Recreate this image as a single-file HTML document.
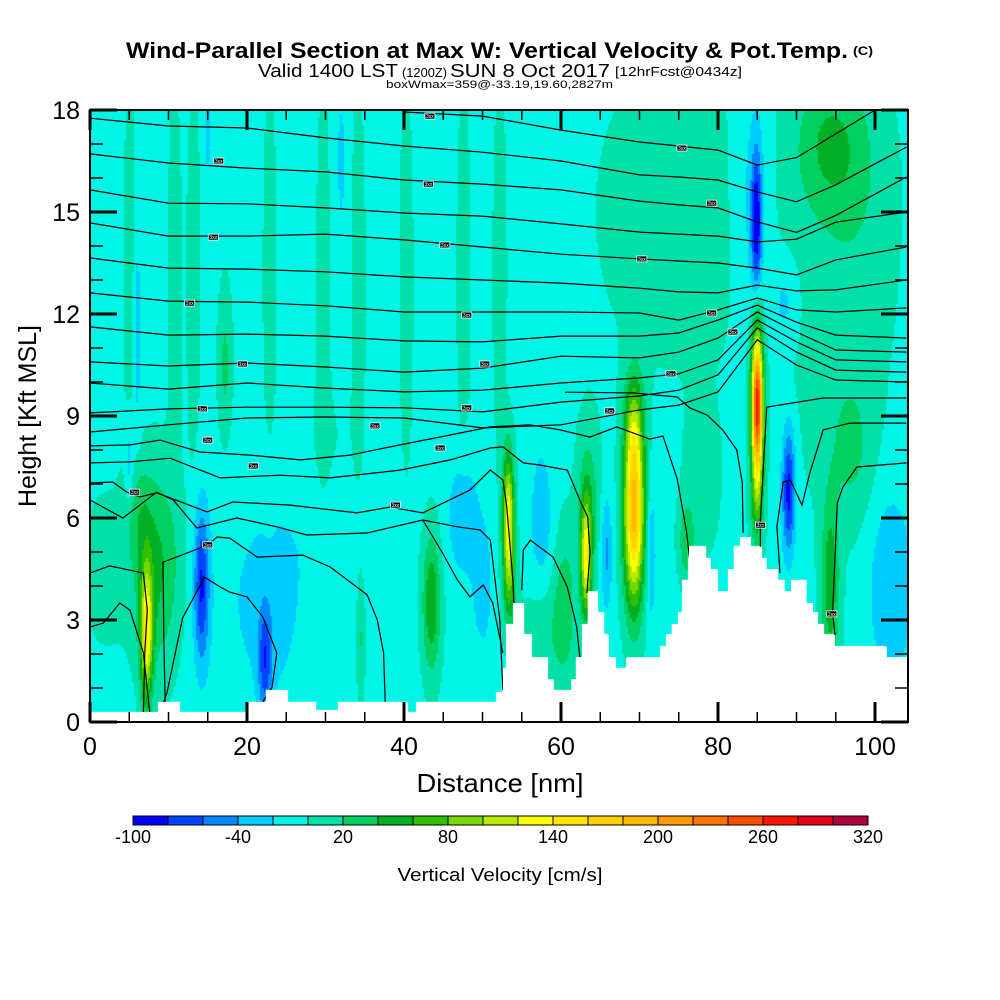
<!DOCTYPE html>
<html><head><meta charset="utf-8">
<style>
html,body{margin:0;padding:0;background:#fff;}
#wrap{position:relative;width:1000px;height:1000px;overflow:hidden;font-family:"Liberation Sans",sans-serif;}
#field{position:absolute;left:90px;top:110px;}
#ov{position:absolute;left:0;top:0;}
</style></head>
<body>
<div id="wrap">
<canvas id="field" width="818" height="612"></canvas>
<svg id="ov" width="1000" height="1000" xmlns="http://www.w3.org/2000/svg">
 <g id="contours"></g>
 <g id="clabels"></g>
 <path id="terrain" fill="#fff" stroke="none"/>
 <rect x="90" y="110" width="818" height="612" fill="none" stroke="#000" stroke-width="2"/>
 <g id="ticks" stroke="#000"></g>
 <g id="ylabels" font-family="Liberation Sans, sans-serif" font-size="25" text-anchor="end"></g>
 <g id="xlabels" font-family="Liberation Sans, sans-serif" font-size="25" text-anchor="middle"></g>
 <text x="500" y="792" font-size="26" text-anchor="middle" textLength="167" lengthAdjust="spacingAndGlyphs" font-family="Liberation Sans, sans-serif">Distance [nm]</text>
 <text transform="translate(36,416) rotate(-90)" font-size="25" text-anchor="middle" textLength="182" lengthAdjust="spacingAndGlyphs" font-family="Liberation Sans, sans-serif">Height [Kft MSL]</text>
 <text x="126" y="58" font-size="22" font-weight="bold" textLength="722" lengthAdjust="spacingAndGlyphs" font-family="Liberation Sans, sans-serif">Wind-Parallel Section at Max W: Vertical Velocity &amp; Pot.Temp.</text>
 <text x="853" y="55" font-size="12" font-weight="bold" textLength="20" lengthAdjust="spacingAndGlyphs" font-family="Liberation Sans, sans-serif">(C)</text>
 <g font-family="Liberation Sans, sans-serif">
  <text x="258" y="77" font-size="18" textLength="140" lengthAdjust="spacingAndGlyphs">Valid 1400 LST</text>
  <text x="402" y="77" font-size="13" textLength="45" lengthAdjust="spacingAndGlyphs">(1200Z)</text>
  <text x="450" y="77" font-size="18" textLength="160" lengthAdjust="spacingAndGlyphs">SUN 8 Oct 2017</text>
  <text x="615" y="76" font-size="13" textLength="127" lengthAdjust="spacingAndGlyphs">[12hrFcst@0434z]</text>
 </g>
 <text x="386" y="88" font-size="11" textLength="227" lengthAdjust="spacingAndGlyphs" font-family="Liberation Sans, sans-serif">boxWmax=359@-33.19,19.60,2827m</text>
 <g id="cbar"></g>
 <g id="cbarlabels" font-family="Liberation Sans, sans-serif" font-size="18" text-anchor="middle"></g>
 <text x="500" y="881" font-size="18" text-anchor="middle" textLength="205" lengthAdjust="spacingAndGlyphs" font-family="Liberation Sans, sans-serif">Vertical Velocity [cm/s]</text>
</svg>
</div>
<script>
// ---------- data ----------
const levelMin = -100, levelStep = 20;
const levelColors = ["#0000FF","#0044FF","#0088FF","#00CCFF","#00F5E6","#00E0A8","#00D060","#00B024","#30C000","#78D800","#B8EA00","#FFFF00","#FFE600","#FFD000","#FFB800","#FF9C00","#FF7400","#FF4C00","#FF1400","#E00020","#B00040"];
const cbarTicks = [-100,-40,20,80,140,200,260,320];
const xTicks = [0,20,40,60,80,100];
const yTicks = [0,3,6,9,12,15,18];
const wBase = -5;
const blobX  = [7.2,8.5,6.0,53.3,53.5,63.2,63.5,69.3,69.3,85.0,85.0,43.5,76,94.3,97,60.5,94,98,14.2,22.3,25,89.0,84.9,84.5,88.5,102,57.5,65.8,71.5,47.5,50,5,6,15,32,75,95,29,34.5,2,58,78,5.1,10.8,13.2,22.9,29.7,34.2,40.3,47.6,52.2,17.2,30];
const blobZ  = [2.6,4.5,6.2,6.0,4.0,4.8,6.5,6.2,8.8,9.3,6.5,3.5,5.3,4.0,8,3.5,17,16,4.0,1.8,3.5,6.8,14.7,15.5,12.3,4.0,6,5.0,5.0,6.0,4,7.5,11.5,17.3,16.5,15,12,2.5,2.5,4.5,2.5,7,13,13,13,13,13,13,13,13,13,10.5,8];
const blobSX = [0.55,2.0,1.2,0.5,0.6,0.5,1.0,0.9,0.8,0.5,0.6,0.8,0.7,0.8,2,1,3,3,0.7,0.6,6,0.6,0.45,1.5,1.2,2.0,1.0,0.5,0.4,1.3,1,0.4,0.35,0.3,0.3,9,5,2.5,0.4,2,2,1.5,0.6,0.6,0.6,0.6,0.6,0.6,0.6,0.6,0.6,0.6,3];
const blobSZ = [1.4,2.0,1.0,1.3,1.0,1.2,1.5,1.9,1.0,1.5,1.0,1.4,0.8,1.8,1.5,1.5,1.5,2.5,1.6,1.1,2.5,1.3,1.4,2.5,0.9,2.0,1.5,1.2,1.5,1.2,1.5,1.0,2.2,0.8,1.2,4,4,2,1.3,1.5,1.2,1.5,4,4,4,4,4,4,4,4,4,1.5,1.5];
const blobAmp= [135,50,25,140,50,130,35,195,50,280,50,65,40,60,25,35,40,15,-75,-60,-25,-85,-85,-25,-25,-35,-30,-40,-35,-35,-25,-35,-30,-30,-30,10,12,18,30,15,20,15,15,15,15,15,15,15,15,15,15,30,8];
const terrX = [0,8.66,11.46,20,22.4,25.1,28.8,31.6,40.5,41.6,51.8,52.6,53.1,53.9,55.3,56.2,58.3,59.0,61.3,61.9,62.7,63.4,64.7,65.5,66.1,67.0,68.4,72.7,73.5,74.1,74.9,75.5,76.3,78.5,79.1,79.9,81.3,82.0,82.8,84.2,85.6,86.2,87.6,88.5,89.3,91.3,92.1,92.7,93.5,94.9,101.5,104.2];
const terrZ = [0.29,0.59,0.29,0.59,0.94,0.59,0.35,0.59,0.29,0.59,0.88,1.59,2.88,3.5,2.56,1.91,1.26,0.94,1.26,1.91,2.88,3.85,3.21,2.56,1.91,1.59,1.91,2.21,2.56,2.88,3.21,4.18,5.15,4.82,4.5,3.85,4.5,5.15,5.44,5.15,4.82,4.5,4.18,3.85,4.18,3.5,3.21,2.88,2.56,2.21,1.91];
const upperKnots = [0,10,20,30,40,50,60,70,75,80,85,90,95,104];
const upperLines = [
 [17.76,17.53,17.47,17.18,16.94,16.76,16.50,16.09,16.03,15.94,15.59,15.3,15.8,16.91],
 [16.71,16.44,16.29,16.18,15.94,15.82,15.65,15.32,15.21,15.12,14.71,14.4,14.9,16.03],
 [15.65,15.26,15.24,15.12,14.97,14.88,14.65,14.41,14.35,14.29,14.12,14.2,14.7,15.0],
 [14.68,14.29,14.29,14.35,14.18,13.97,13.76,13.62,13.56,13.5,13.35,13.15,13.59,13.97],
 [13.65,13.35,13.32,13.24,13.09,13.0,12.91,12.76,12.65,12.62,12.85,12.68,12.71,13.0],
 [12.62,12.38,12.35,12.24,12.06,12.06,12.06,12.03,11.82,12.12,12.47,12.12,12.06,12.18],
 [11.62,11.38,11.41,11.35,11.21,11.18,11.35,11.35,11.44,11.82,12.26,11.76,11.38,11.29],
 [10.59,10.47,10.56,10.44,10.29,10.41,10.76,10.71,10.88,11.29,12.06,11.47,10.94,10.88],
 [9.97,9.79,9.97,9.82,9.71,9.76,9.97,10.12,10.24,10.65,11.82,11.18,10.65,10.59],
 [9.09,9.21,9.26,9.26,9.24,9.12,9.41,9.59,9.76,10.21,11.59,10.88,10.35,10.29],
 [8.53,8.74,8.94,8.97,8.94,8.65,8.74,9.18,9.32,9.71,11.24,10.5,10.06,10.0]
];
const topLineX = [40,50,60,70,75,80,85,90,95,100];
const topLineZ = [17.94,17.82,17.41,17.06,16.94,16.82,16.38,16.6,17.3,18.0];
const lowerLinesX = [
 [0,5.1,8.9,14,20.4,26.8,33.1,39.5,45.9,51,56,59.9,63.7,67.1,71.3,73,74.8,76,76.4],
 [0,5.1,10.2,16.6,24.2,30.6,39.5,45.9,51,52.6,55.2,57.3,60.8,62.4,63.4,63.7,63.3],
 [0,2.9,4.7,6.4,8.5,14.9,18.2,25.5,34,38.2,42.4,48.4,51,52.6,53.1,53.9,54.1],
 [0,4.2,8.5,10.6,13.6,18.7,23.8,27.6,35.3,42.4,46.8,49.7,51,52.2,52.6],
 [55,55.2,56.1,59,60.8,62,62.4],
 [0,2.5,6.8,7.3,7,6.8],
 [9.6,9.4,9.3,12.7,15,16.2,17.8,21.3,27.1,30.6,35.3,36.6,37.4,37.6],
 [0,1.7,3.8,5.1,6.8,7.6],
 [8.9,9.8,11.8,14.6,16.6,17.8,20,22,23.8,23.2,22],
 [42.4,44.9,46.8,48.4,50.1,51.3,52.6],
 [60.5,69.2,74.8,76.4,78.6,80.6,82.4,83.1,83.2],
 [104,93.4,86.2,85.4,85.4],
 [104,96.8,93.4,91.7,90.7,89.2,88.3,87.5,87.9],
 [104,97.7,95.9,95.2,94.6,94.9]
];
const lowerLinesZ = [
 [8.12,8.15,8.29,7.94,7.85,7.71,7.85,8.15,8.44,8.68,8.74,8.59,8.38,8.68,8.32,8.41,7.15,5.59,4.76],
 [7.62,7.65,7.76,7.18,7.26,7.18,7.41,7.71,8.06,8.09,7.62,7.56,7.41,6.53,6.03,4.97,3.79],
 [7.03,7.06,6.76,6.62,6.74,6.18,6.47,6.38,6.15,6.32,6.15,6.82,7.41,7.12,6.32,4.09,2.91],
 [6.53,6.0,6.76,6.53,5.71,6.0,5.74,5.5,5.56,5.94,5.74,5.65,5.35,3.0,0.94],
 [3.88,5.06,5.35,4.85,3.97,2.79,1.91],
 [4.38,4.59,4.38,3.29,2.12,0.29],
 [0.29,2.5,4.7,5.0,5.21,5.44,5.41,4.85,4.91,4.56,3.74,3.0,2.03,0.56],
 [2.79,2.91,3.5,3.29,2.03,0.29],
 [0.29,0.85,3.06,4.26,3.97,3.82,3.68,3.09,2.03,1.03,0.59],
 [5.94,4.97,4.18,3.68,4.03,3.5,2.03],
 [9.7,9.68,9.56,9.24,9.03,8.59,8.0,7.03,5.56],
 [9.53,9.53,9.26,5.94,5.15],
 [8.79,8.79,8.59,7.32,6.38,7.12,7.06,5.74,4.38],
 [7.62,7.5,6.91,6.44,3.21,2.56]
];
const labelX = [43.3,16.4,15.7,12.7,19.4,14.3,15.0,20.8,5.7,15.0,38.9,36.3,43.1,45.2,48.0,50.3,48.0,44.6,66.2,70.3,75.4,79.2,79.2,81.9,74.0,85.4,94.5];
const labelZ = [17.82,16.5,14.26,12.32,10.53,9.21,8.29,7.53,6.76,5.21,6.38,8.71,15.82,14.03,11.97,10.53,9.24,8.06,9.15,13.62,16.88,15.26,12.03,11.47,10.24,5.79,3.18];

// ---------- axes ----------
const X0=90, X1=908, Y0=722, Y1=110, XMAX=(908-90)/7.85, ZMAX=18;
const X = v => X0 + v*(X1-X0)/XMAX;
const Y = v => Y0 - v*(Y0-Y1)/ZMAX;
const NS="http://www.w3.org/2000/svg";
function mk(tag, parent){const e=document.createElementNS(NS,tag);parent.appendChild(e);return e;}

function terrainAt(x){
  let h=terrZ[0];
  for(let i=0;i<terrZ.length;i++){ if(x>=terrX[i]) h=terrZ[i]; }
  return h;
}
function wAt(x,z){
  let w=wBase;
  for(let i=0;i<blobX.length;i++){
    const dx=(x-blobX[i])/blobSX[i], dz=(z-blobZ[i])/blobSZ[i];
    const q=dx*dx+dz*dz; if(q<30) w+=blobAmp[i]*Math.exp(-0.5*q);
  }
  return w;
}
(function(){
  const cv=document.getElementById('field'), ctx=cv.getContext('2d');
  const W=cv.width,H=cv.height,c=2;
  for(let py=0;py<H;py+=c){
    for(let px=0;px<W;px+=c){
      const x=(px+c/2)*XMAX/(X1-X0), z=(H-(py+c/2))*ZMAX/(Y0-Y1);
      if(z<terrainAt(x)) continue;
      let b=Math.floor((wAt(x,z)-levelMin)/levelStep);
      b=Math.max(0,Math.min(levelColors.length-1,b));
      ctx.fillStyle=levelColors[b];
      ctx.fillRect(px,py,c,c);
    }
  }
})();
(function(){
  const g=document.getElementById('contours');
  function line(xs,zs,name){
    const p=mk('polyline',g);
    p.setAttribute('points',xs.map((x,i)=>X(x).toFixed(1)+','+Y(Math.min(zs[i],18.2)).toFixed(1)).join(' '));
    p.setAttribute('fill','none');p.setAttribute('stroke','#000');p.setAttribute('stroke-width','1.2');
    
    
  }
  line(topLineX,topLineZ,'theta-contour-top');
  upperLines.forEach((zs,i)=>line(upperKnots,zs,'theta-contour-upper-'+(i+1)));
  lowerLinesX.forEach((xs,i)=>line(xs,lowerLinesZ[i],'theta-contour-lower-'+(i+1)));
  const lg=document.getElementById('clabels');
  labelX.forEach((x,i)=>{
    const r=mk('rect',lg);
    r.setAttribute('x',X(x)-5);r.setAttribute('y',Y(labelZ[i])-3);r.setAttribute('width',10);r.setAttribute('height',6);
    r.setAttribute('fill','#000');r.setAttribute('stroke','#fff');r.setAttribute('stroke-width','0.8');
    
    
    const t=mk('text',lg);
    t.setAttribute('x',X(x));t.setAttribute('y',Y(labelZ[i])+2);t.setAttribute('font-size','5');
    t.setAttribute('fill','#fff');t.setAttribute('text-anchor','middle');t.setAttribute('font-family','Liberation Sans, sans-serif');
    t.textContent='3xx';
    
    
  });
})();
(function(){
  let d='M'+X0+','+Y0;
  for(let i=0;i<terrZ.length;i++){
    const y=Y(terrZ[i]);
    d+=' L'+X(terrX[i]).toFixed(1)+','+y.toFixed(1)+' L'+X(terrX[i+1]).toFixed(1)+','+y.toFixed(1);
  }
  d+=' L'+X1+','+Y0+' Z';
  document.getElementById('terrain').setAttribute('d',d);
})();
(function(){
  const g=document.getElementById('ticks');
  function tk(x1,y1,x2,y2,w){const l=mk('line',g);l.setAttribute('x1',x1);l.setAttribute('y1',y1);l.setAttribute('x2',x2);l.setAttribute('y2',y2);l.setAttribute('stroke-width',w);
    
    }
  for(let v=0;v<=18;v++){
    const major=v%3===0, L=major?27:13, w=major?3:1.5;
    tk(X0,Y(v),X0+L,Y(v),w); tk(X1,Y(v),X1-L,Y(v),w);
  }
  for(let v=0;v<=XMAX;v+=5){
    const major=v%20===0, L=major?20:10, w=major?3:1.5;
    tk(X(v),Y0,X(v),Y0-L,w); tk(X(v),Y1,X(v),Y1+L,w);
  }
  const yl=document.getElementById('ylabels');
  yTicks.forEach(v=>{const t=mk('text',yl);t.setAttribute('x',80);t.setAttribute('y',Y(v)+9);t.textContent=v;
    
    });
  const xl=document.getElementById('xlabels');
  xTicks.forEach(v=>{const t=mk('text',xl);t.setAttribute('x',X(v));t.setAttribute('y',755);t.textContent=v;
    
    });
})();
(function(){
  const g=document.getElementById('cbar'), bx=133, bw=35, by=816, bh=9;
  levelColors.forEach((c,i)=>{
    const r=mk('rect',g);
    r.setAttribute('x',bx+i*bw);r.setAttribute('y',by);r.setAttribute('width',bw);r.setAttribute('height',bh);
    r.setAttribute('fill',c);r.setAttribute('stroke','#000');r.setAttribute('stroke-width','1');
    
    
  });
  const lg=document.getElementById('cbarlabels');
  cbarTicks.forEach(v=>{
    const t=mk('text',lg);
    t.setAttribute('x',bx+(v-levelMin)/levelStep*bw);t.setAttribute('y',843);t.textContent=v;
    
    
  });
})();
</script>
</body></html>
